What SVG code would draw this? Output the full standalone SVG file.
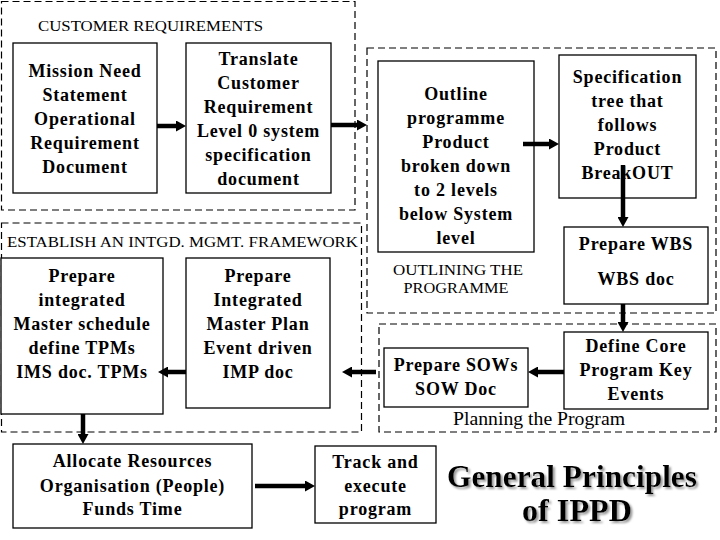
<svg xmlns="http://www.w3.org/2000/svg" width="720" height="540" viewBox="0 0 720 540">
<style>
.bg{fill:#fff}
.grp{fill:none;stroke:#000;stroke-width:1.2;stroke-dasharray:7,4}
.box{fill:#fff;stroke:#000;stroke-width:1.3}
.t{font-family:"Liberation Serif","Times New Roman",serif;font-weight:bold;font-size:18px;letter-spacing:0.8px;text-anchor:middle;fill:#000}
.h{font-family:"Liberation Serif","Times New Roman",serif;font-size:15px;fill:#000}
.big{font-family:"Liberation Serif","Times New Roman",serif;font-weight:bold;font-size:32px;fill:#000}
.arr{fill:none;stroke:#000;stroke-width:4.5;marker-end:url(#ah)}
</style>
<defs>
<marker id="ah" markerUnits="userSpaceOnUse" markerWidth="10" markerHeight="11" refX="0" refY="5.5" orient="auto">
<path d="M0,0 L10,5.5 L0,11 z" fill="#000"/>
</marker>
<filter id="sh" x="-20%" y="-40%" width="140%" height="180%">
<feDropShadow dx="2" dy="2" stdDeviation="0.8" flood-color="#999"/>
</filter>
</defs>
<rect class="bg" x="0" y="0" width="720" height="540"/>

<g id="customer-requirements">
<rect class="grp" x="1.5" y="1.5" width="353.5" height="208.5"/>
<text class="h" x="38" y="31" textLength="225" lengthAdjust="spacingAndGlyphs">CUSTOMER REQUIREMENTS</text>
</g>
<g id="outlining-programme">
<rect class="grp" x="367" y="48" width="349" height="265"/>
<text class="h" x="458" y="275" text-anchor="middle" textLength="130" lengthAdjust="spacingAndGlyphs">OUTLINING THE</text>
<text class="h" x="456" y="293" text-anchor="middle" textLength="105" lengthAdjust="spacingAndGlyphs">PROGRAMME</text>
</g>
<g id="establish-framework">
<rect class="grp" x="1.5" y="223" width="360" height="209"/>
<text class="h" x="7" y="247" textLength="351" lengthAdjust="spacingAndGlyphs">ESTABLISH AN INTGD. MGMT. FRAMEWORK</text>
</g>
<g id="planning-program">
<rect class="grp" x="379" y="324" width="337" height="108"/>
<text class="h" x="453" y="425" style="font-size:19px" textLength="172" lengthAdjust="spacingAndGlyphs">Planning the Program</text>
</g>

<g id="mission">
<rect class="box" x="13" y="43" width="144" height="150"/>
<text class="t" x="85" y="77">Mission Need</text>
<text class="t" x="85" y="101">Statement</text>
<text class="t" x="85" y="125">Operational</text>
<text class="t" x="85" y="149">Requirement</text>
<text class="t" x="85" y="173">Document</text>
</g>
<g id="translate">
<rect class="box" x="186" y="43" width="145" height="150"/>
<text class="t" x="258.5" y="65">Translate</text>
<text class="t" x="258.5" y="89">Customer</text>
<text class="t" x="258.5" y="113">Requirement</text>
<text class="t" x="258.5" y="137">Level 0 system</text>
<text class="t" x="258.5" y="161">specification</text>
<text class="t" x="258.5" y="185">document</text>
</g>
<g id="outline">
<rect class="box" x="378" y="61" width="156" height="191"/>
<text class="t" x="456" y="100">Outline</text>
<text class="t" x="456" y="124">programme</text>
<text class="t" x="456" y="148">Product</text>
<text class="t" x="456" y="172">broken down</text>
<text class="t" x="456" y="196">to 2 levels</text>
<text class="t" x="456" y="220">below System</text>
<text class="t" x="456" y="244">level</text>
</g>
<g id="spec-tree">
<rect class="box" x="559" y="55" width="137" height="143"/>
<text class="t" x="627.5" y="83">Specification</text>
<text class="t" x="627.5" y="107">tree that</text>
<text class="t" x="627.5" y="131">follows</text>
<text class="t" x="627.5" y="155">Product</text>
<text class="t" x="627.5" y="179">BreakOUT</text>
</g>
<g id="wbs">
<rect class="box" x="564" y="227" width="144" height="77"/>
<text class="t" x="636" y="250">Prepare WBS</text>
<text class="t" x="636" y="285">WBS doc</text>
</g>
<g id="define-core">
<rect class="box" x="564" y="332" width="144" height="77"/>
<text class="t" x="636" y="352">Define Core</text>
<text class="t" x="636" y="376">Program Key</text>
<text class="t" x="636" y="400">Events</text>
</g>
<g id="sow">
<rect class="box" x="384" y="348" width="144" height="59"/>
<text class="t" x="456" y="371">Prepare SOWs</text>
<text class="t" x="456" y="395">SOW Doc</text>
</g>
<g id="imp">
<rect class="box" x="186" y="258" width="144" height="150"/>
<text class="t" x="258" y="282">Prepare</text>
<text class="t" x="258" y="306">Integrated</text>
<text class="t" x="258" y="330">Master Plan</text>
<text class="t" x="258" y="354">Event driven</text>
<text class="t" x="258" y="378">IMP doc</text>
</g>
<g id="ims">
<rect class="box" x="1" y="258" width="162" height="156"/>
<text class="t" x="82" y="282">Prepare</text>
<text class="t" x="82" y="306">integrated</text>
<text class="t" x="82" y="330">Master schedule</text>
<text class="t" x="82" y="354">define TPMs</text>
<text class="t" x="82" y="378">IMS doc. TPMs</text>
</g>
<g id="allocate">
<rect class="box" x="13" y="444" width="239" height="84"/>
<text class="t" x="132.5" y="467">Allocate Resources</text>
<text class="t" x="132.5" y="492">Organisation (People)</text>
<text class="t" x="132.5" y="515">Funds Time</text>
</g>
<g id="track">
<rect class="box" x="315" y="446" width="121" height="77"/>
<text class="t" x="375.5" y="468">Track and</text>
<text class="t" x="375.5" y="492">execute</text>
<text class="t" x="375.5" y="515">program</text>
</g>
<g id="title" filter="url(#sh)">
<text class="big" x="447" y="487" textLength="250" lengthAdjust="spacingAndGlyphs">General Principles</text>
<text class="big" x="522" y="521" textLength="110" lengthAdjust="spacingAndGlyphs">of IPPD</text>
</g>

<g id="connectors">
<path class="arr" d="M157,126 H176"/>
<path class="arr" d="M331,125 H357"/>
<path class="arr" d="M523,144 H549"/>
<path class="arr" d="M623,165 V217"/>
<path class="arr" d="M623,304 V322"/>
<path class="arr" d="M564,372 H538"/>
<path class="arr" d="M376,372 H352"/>
<path class="arr" d="M186,372 H168"/>
<path class="arr" d="M83,414 V434"/>
<path class="arr" d="M255,486 H305"/>
</g>
</svg>
